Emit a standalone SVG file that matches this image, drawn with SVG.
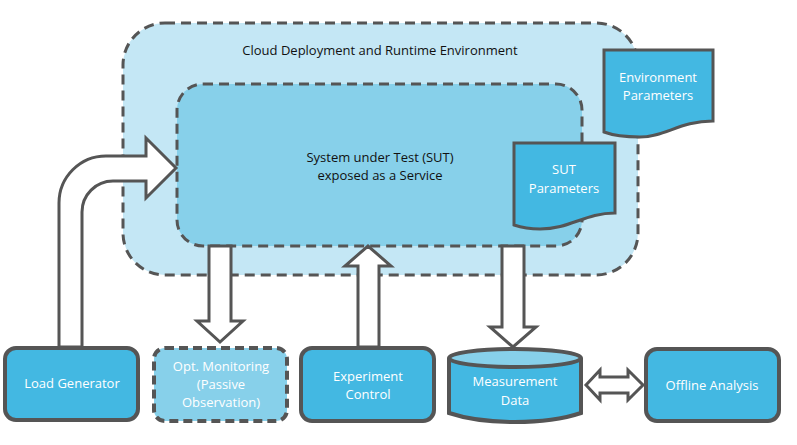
<svg xmlns="http://www.w3.org/2000/svg" width="797" height="445" viewBox="0 0 797 445">
<style>
text{font-family:"Open Sans","Liberation Sans",sans-serif;font-size:13px;text-anchor:middle}
.dk{fill:#111}
.wt{fill:#fff}
.box{fill:#43b8e2;stroke:#555;stroke-width:4}
.dash{stroke:#555;stroke-width:3;stroke-dasharray:10 6}
.arr{fill:#fff;stroke:#555;stroke-width:3;stroke-linejoin:miter}
</style>
<g id="cloud">
<rect x="123" y="23" width="515" height="252" rx="42" fill="#c4e7f5" class="dash"/>
<text class="dk" x="380" y="55">Cloud Deployment and Runtime Environment</text>
</g>
<g id="sut">
<rect x="177" y="84" width="405" height="162" rx="26" fill="#87d0ea" class="dash"/>
<text class="dk" x="380" y="162">System under Test (SUT)</text>
<text class="dk" x="380" y="180">exposed as a Service</text>
</g>
<g id="env-params">
<path d="M604 50 H713 V121 C680 121 665 137 640 137 C625 137 612 135 604 132 Z" fill="#43b8e2" stroke="#555" stroke-width="3"/>
<text class="wt" x="658" y="82">Environment</text>
<text class="wt" x="658" y="100">Parameters</text>
</g>
<g id="sut-params">
<path d="M514 143 H615 V213 C585 213 570 229 540 229 C528 229 520 227 514 225 Z" fill="#43b8e2" stroke="#555" stroke-width="3"/>
<text class="wt" x="564" y="174">SUT</text>
<text class="wt" x="564" y="193">Parameters</text>
</g>
<g id="connectors">
<path class="arr" d="M59 347 V203 A47 47 0 0 1 106 156 H146 V138 L176 168 L146 198 V181 H113 A31 31 0 0 0 82 212 V347 Z"/>
<path class="arr" d="M209 246 V321 H197 L220 342 L243 321 H231 V246 Z"/>
<path class="arr" d="M358 347 V266 H345 L368 246 L391 266 H379 V347 Z"/>
<path class="arr" d="M502 246 V327 H490 L513 347 L536 327 H524 V246 Z"/>
<path class="arr" d="M586 385 L600 370 V377 H628 V370 L643 385 L628 400 V393 H600 V400 Z"/>
</g>
<g id="load-generator">
<rect class="box" x="5" y="348" width="133" height="72" rx="11"/>
<text class="wt" x="72" y="388">Load Generator</text>
</g>
<g id="opt-monitoring">
<rect x="154" y="348" width="133" height="73" rx="11" fill="#87d0ea" stroke="#555" stroke-width="4" stroke-dasharray="9 5"/>
<text class="wt" x="221" y="371">Opt. Monitoring</text>
<text class="wt" x="221" y="389">(Passive</text>
<text class="wt" x="221" y="407">Observation)</text>
</g>
<g id="experiment-control">
<rect class="box" x="301" y="348" width="133" height="73" rx="11"/>
<text class="wt" x="368" y="381">Experiment</text>
<text class="wt" x="368" y="399">Control</text>
</g>
<g id="measurement-data">
<path d="M449 358 V413 C470 420 490 422 515 422 C540 422 560 420 581 413 V358" fill="#43b8e2" stroke="#555" stroke-width="4"/>
<ellipse cx="515" cy="358" rx="66" ry="9" fill="#87d0ea" stroke="#555" stroke-width="4"/>
<text class="wt" x="515" y="386">Measurement</text>
<text class="wt" x="515" y="405">Data</text>
</g>
<g id="offline-analysis">
<rect class="box" x="646" y="349" width="133" height="72" rx="11"/>
<text class="wt" x="712" y="390">Offline Analysis</text>
</g>
</svg>
